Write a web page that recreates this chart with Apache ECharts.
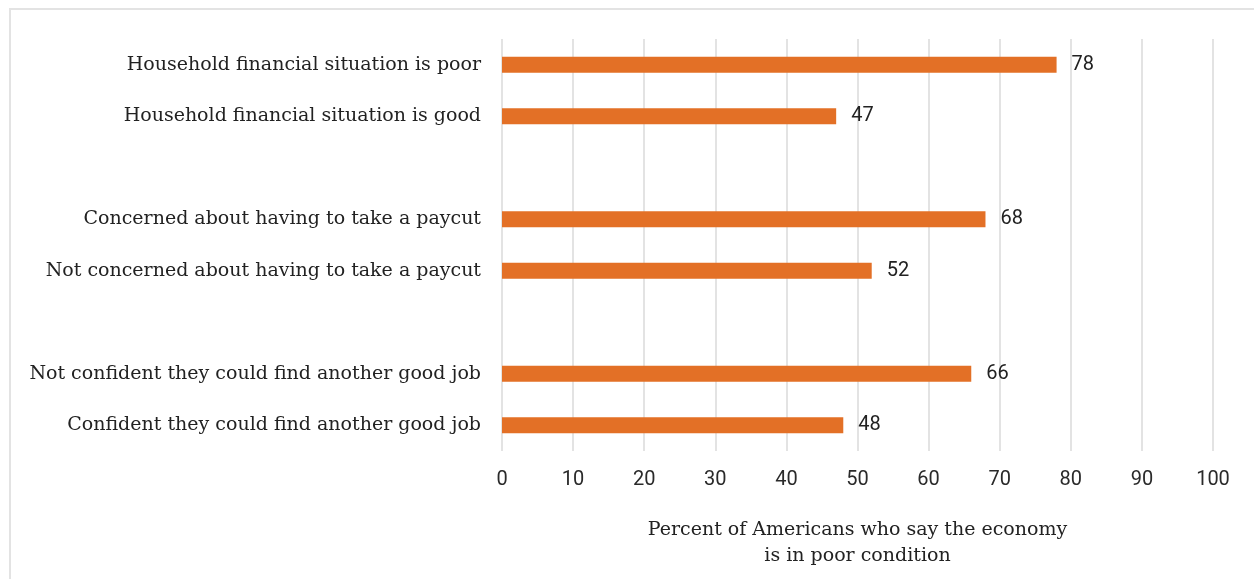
<!DOCTYPE html>
<html>
<head>
<meta charset="utf-8">
<script src="https://cdn.jsdelivr.net/npm/echarts@6/dist/echarts.min.js"></script>
<style>
html,body{margin:0;padding:0;background:#fff;}
#chart{width:1254px;height:579px;}
</style>
</head>
<body>
<div id="chart"></div>
<script>
const categories = [
  'Household financial situation is poor',
  'Household financial situation is good',
  '',
  'Concerned about having to take a paycut',
  'Not concerned about having to take a paycut',
  ' ',
  'Not confident they could find another good job',
  'Confident they could find another good job'
];
const values = [78, 47, null, 68, 52, null, 66, 48];
const xTicks = { min: 0, max: 100, interval: 10 };
const axisTitle = 'Percent of Americans who say the economy\nis in poor condition';

const chart = echarts.init(document.getElementById('chart'), null, {renderer: 'canvas'});
chart.setOption({
  animation: false,
  backgroundColor: '#ffffff',
  graphic: [{
    type: 'rect',
    shape: {x: 10, y: 9, width: 1400, height: 700},
    style: {fill: 'none', stroke: '#e3e3e3', lineWidth: 2},
    silent: true
  }],
  grid: {left: 502, right: 41, top: 39, bottom: 128, containLabel: false},
  xAxis: {
    type: 'value',
    min: xTicks.min, max: xTicks.max, interval: xTicks.interval,
    axisLine: {show: false},
    axisTick: {show: false},
    splitLine: {show: true, lineStyle: {color: '#e3e3e3', width: 2}},
    axisLabel: {color: '#2a2a2a', fontFamily: 'Roboto', fontSize: 20, margin: 19},
    name: axisTitle,
    nameLocation: 'middle',
    nameGap: 66,
    nameTextStyle: {color: '#222', fontFamily: 'DejaVu Serif', fontSize: 19, lineHeight: 26}
  },
  yAxis: {
    type: 'category',
    inverse: true,
    data: categories,
    axisLine: {show: false},
    axisTick: {show: false},
    splitLine: {show: false},
    axisLabel: {color: '#222', fontFamily: 'DejaVu Serif', fontSize: 19, margin: 21}
  },
  series: [{
    type: 'bar',
    data: values,
    barWidth: 16,
    itemStyle: {color: '#E37026'},
    label: {show: true, position: 'right', distance: 15, color: '#222', fontFamily: 'Roboto', fontSize: 20}
  }]
});
</script>
</body>
</html>
